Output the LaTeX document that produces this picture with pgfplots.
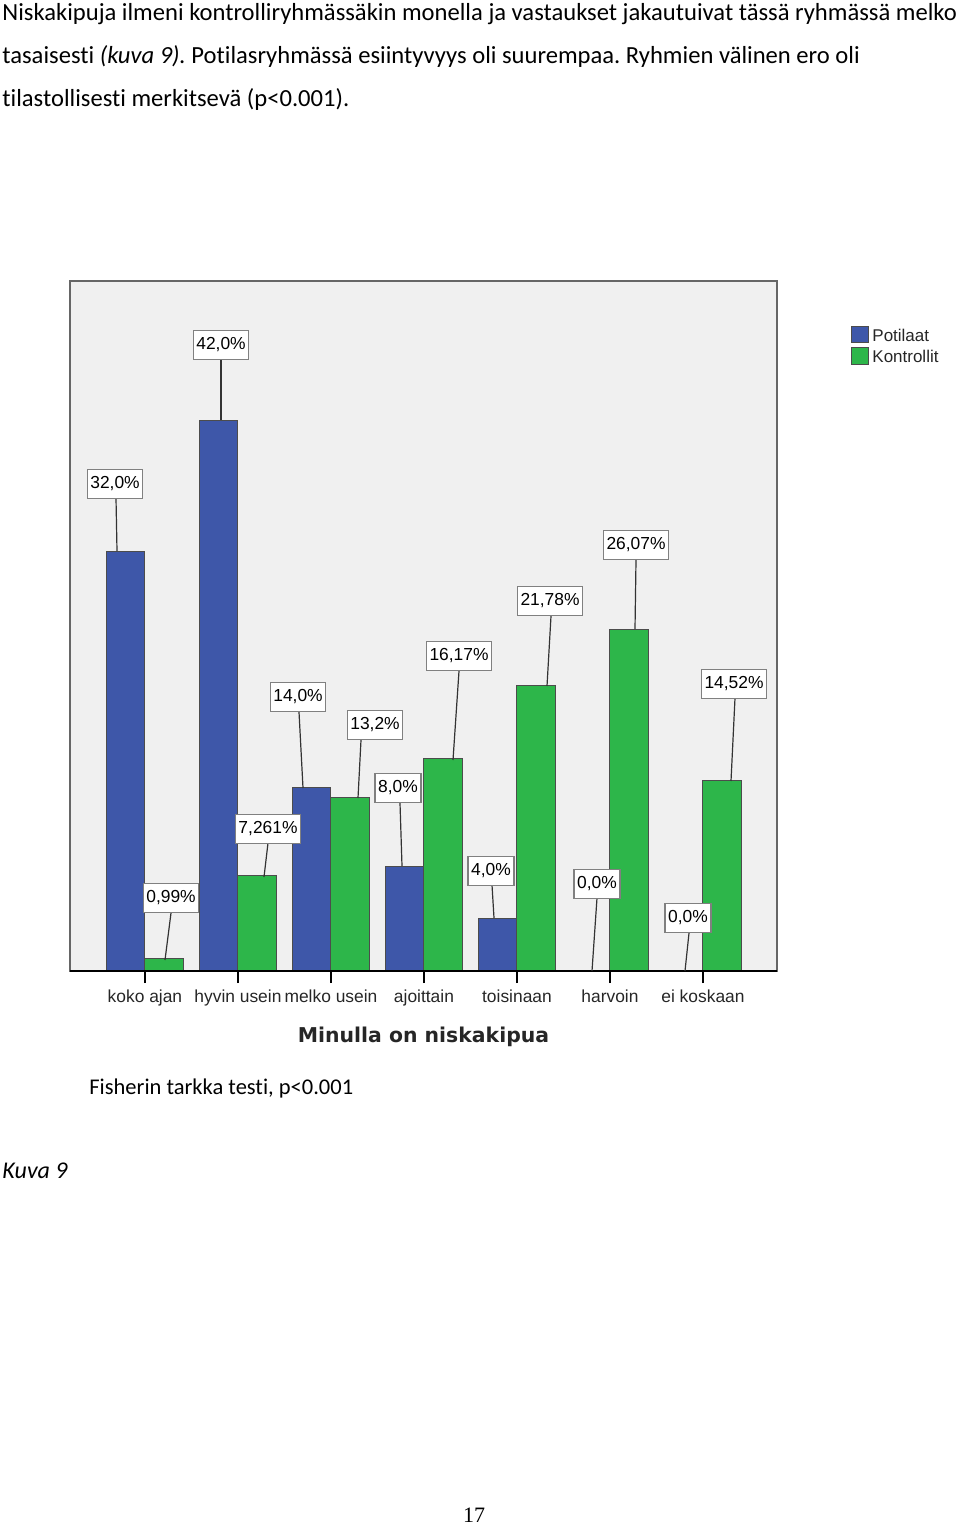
\documentclass[border=0pt]{standalone}
\usepackage{fontspec}
\setmainfont{Carlito}[Ligatures={NoCommon}]
\newfontfamily\arial{Liberation Sans}
\newfontfamily\verd{DejaVu Sans}
\newfontfamily\tmsfont{Liberation Serif}
\usepackage{pgfplots}
\pgfplotsset{compat=1.18}

\definecolor{barblue}{HTML}{3E57A9}
\definecolor{bargreen}{HTML}{2DB64A}
\definecolor{plotbg}{HTML}{F0F0F0}

\frenchspacing
\begin{document}
\begin{tikzpicture}
\begin{scope}[x=0.5pt,y=-0.5pt]
\path[use as bounding box] (0,0) rectangle (960,1524);
\tikzset{body/.style={anchor=base west,inner sep=0,font=\fontsize{12.3}{14}\selectfont}}
\node[body] at (2,21) {Niskakipuja ilmeni kontrolliryhmässäkin monella ja vastaukset jakautuivat tässä ryhmässä melko};
\node[body] at (2,64) {tasaisesti \textit{(kuva 9).} Potilasryhmässä esiintyvyys oli suurempaa. Ryhmien välinen ero oli};
\node[body] at (2,107) {tilastollisesti merkitsevä (p<0.001).};
\node[anchor=base west,inner sep=0,font=\fontsize{11.25}{13}\selectfont] at (89,1094) {Fisherin tarkka testi, p<0.001};
\node[anchor=base west,inner sep=0,font=\fontsize{12}{14}\selectfont] at (2,1178) {\textit{Kuva 9}};
\node[anchor=base,inner sep=0,font=\tmsfont\fontsize{11}{13}\selectfont] at (474,1522) {17};
\end{scope}

\begin{axis}[
    at={(35pt,-485.5pt)}, anchor=south west,
    scale only axis,
    width=353.5pt, height=345pt,
    xmin=-0.806, xmax=6.796,
    ymin=0, ymax=52.6,
    axis background/.style={fill=plotbg},
    axis line style={draw=gray!80!black, line width=0.8pt},
    ytick=\empty,
    xtick={0,...,6},
    xticklabels={koko ajan, hyvin usein, melko usein, ajoittain, toisinaan, harvoin, ei koskaan},
    xtick pos=bottom,
    tick align=outside,
    major tick length=6pt,
    tick style={black, line width=0.8pt},
    xticklabel style={font=\arial\fontsize{8.7}{10}\selectfont, color=black!85, inner sep=1pt, yshift=-2pt},
    xlabel={Minulla on niskakipua},
    xlabel style={font=\verd\bfseries\fontsize{10.2}{12}\selectfont, color=black!85, yshift=-6pt},
    clip=false,
]
\addplot[ybar, bar width=19.25pt, bar shift=-9.625pt, fill=barblue, draw=black!70, line width=0.5pt]
  coordinates {(0,32.0)(1,42.0)(2,14.0)(3,8.0)(4,4.0)(5,0.0)(6,0.0)};
\addplot[ybar, bar width=19.25pt, bar shift=9.625pt, fill=bargreen, draw=black!70, line width=0.5pt]
  coordinates {(0,0.99)(1,7.261)(2,13.2)(3,16.17)(4,21.78)(5,26.07)(6,14.52)};
\draw[black, line width=0.8pt] (rel axis cs:0,0) -- (rel axis cs:1,0);
\end{axis}

\begin{scope}[x=0.5pt,y=-0.5pt]
\tikzset{lab/.style={draw=gray, fill=white, line width=0.8pt, inner xsep=1.5pt, inner ysep=0pt, minimum height=14.5pt, font=\arial\fontsize{8.7}{10}\selectfont}}
\foreach \cx/\cy/\ax/\ay/\bx/\by/\t in {
  115/484/116/498/117/551/{32,0\%},
  221/345/221/360/221/420/{42,0\%},
  171/898/171/913/165/960/{0,99\%},
  268/829/268/843/264/877/{7,261\%},
  298/697/299/712/303/788/{14,0\%},
  375/725/361/740/358/798/{13,2\%},
  398/788/400/803/402/866/{8,0\%},
  459/656/459/671/453/760/{16,17\%},
  491/871/492/885/494/918/{4,0\%},
  550/601/551/616/547/686/{21,78\%},
  597/884/597/898/592/971/{0,0\%},
  636/545/636/560/635/629/{26,07\%},
  688/918/689/933/685/971/{0,0\%},
  734/684/735/698/731/781/{14,52\%}}{
  \draw[black!80, line width=0.6pt] (\ax,\ay) -- (\bx,\by);
  \node[lab] at (\cx,\cy) {\t};
}
% legend
\fill[barblue, draw=black!70] (851,326) rectangle (868,342);
\fill[bargreen, draw=black!70] (851,347) rectangle (868,364);
\node[anchor=west, inner sep=0, font=\arial\fontsize{8.5}{10}\selectfont, color=black!85] at (872,335) {Potilaat};
\node[anchor=west, inner sep=0, font=\arial\fontsize{8.5}{10}\selectfont, color=black!85] at (872,356) {Kontrollit};
\end{scope}
\end{tikzpicture}
\end{document}
